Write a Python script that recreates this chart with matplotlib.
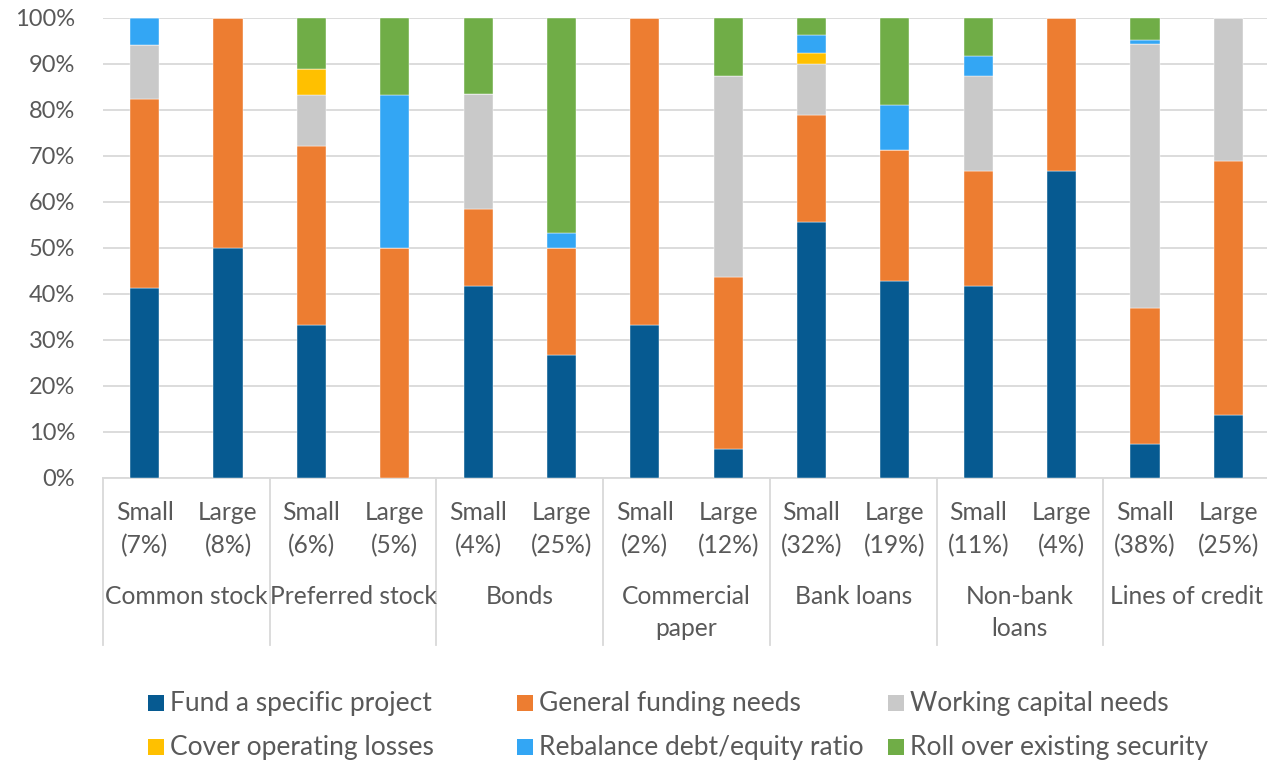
import matplotlib
matplotlib.use("Agg")
import matplotlib.pyplot as plt
import numpy as np
from matplotlib.patches import Rectangle

# ── data ───────────────────────────────────────────────────
groups = ["Common stock", "Preferred stock", "Bonds", "Commercial\npaper",
          "Bank loans", "Non-bank\nloans", "Lines of credit"]
sizes = ["Small\n(7%)", "Large\n(8%)", "Small\n(6%)", "Large\n(5%)",
         "Small\n(4%)", "Large\n(25%)", "Small\n(2%)", "Large\n(12%)",
         "Small\n(32%)", "Large\n(19%)", "Small\n(11%)", "Large\n(4%)",
         "Small\n(38%)", "Large\n(25%)"]

series = ["Fund a specific project", "General funding needs", "Working capital needs",
          "Cover operating losses", "Rebalance debt/equity ratio", "Roll over existing security"]
colors = ["#065A91", "#ED7D31", "#C9C9C9", "#FFC000", "#33A6F4", "#70AD47"]

fund_project = [41.2, 50.0, 33.3, 0.0, 41.7, 26.7, 33.3, 6.25, 55.6, 42.9, 41.7, 66.7, 7.4, 13.8]
general      = [41.2, 50.0, 38.9, 50.0, 16.7, 23.3, 66.7, 37.5, 23.3, 28.5, 25.0, 33.3, 29.6, 55.2]
working_cap  = [11.7, 0.0, 11.1, 0.0, 25.0, 0.0, 0.0, 43.75, 11.1, 0.0, 20.8, 0.0, 57.4, 31.0]
cover_losses = [0.0, 0.0, 5.6, 0.0, 0.0, 0.0, 0.0, 0.0, 2.5, 0.0, 0.0, 0.0, 0.0, 0.0]
rebalance    = [5.9, 0.0, 0.0, 33.3, 0.0, 3.3, 0.0, 0.0, 3.8, 9.6, 4.2, 0.0, 0.9, 0.0]
roll_over    = [0.0, 0.0, 11.1, 16.7, 16.6, 46.7, 0.0, 12.5, 3.7, 19.0, 8.3, 0.0, 4.7, 0.0]

values = [fund_project, general, working_cap, cover_losses, rebalance, roll_over]

# ── figure ─────────────────────────────────────────────────
plt.rcParams["font.family"] = ["Lato", "DejaVu Sans"]
TXT = "#595959"
GRID = "#D9D9D9"
FS = 17.7

W, H = 1267, 765
fig = plt.figure(figsize=(W / 100, H / 100), dpi=100)
ax = fig.add_axes([103 / W, (H - 478) / H, (1270 - 103) / W, 460 / H])

x = np.arange(len(sizes))
bottom = np.zeros(len(sizes))
for vals, col, name in zip(values, colors, series):
    vals = np.array(vals)
    ax.bar(x, vals, 0.35, bottom=bottom, color=col, label=name, zorder=3,
           edgecolor="white", linewidth=0.3)
    bottom += vals

ax.set_xlim(-0.5, len(sizes) - 0.5)
ax.set_ylim(0, 100)
ax.set_yticks(np.arange(0, 101, 10))
ax.set_yticklabels([f"{v}%" for v in range(0, 101, 10)], color=TXT, fontsize=17)
ax.tick_params(axis="y", length=0, pad=20)
ax.tick_params(axis="x", length=0, labelbottom=False)
ax.yaxis.grid(True, color=GRID, linewidth=1.3, zorder=0)
for s in ["top", "right", "left"]:
    ax.spines[s].set_visible(False)
ax.spines["bottom"].set_color(GRID)
ax.spines["bottom"].set_linewidth(1.3)

# two-level category axis
tr = ax.get_xaxis_transform()
for i, lab in enumerate(sizes):
    l1, l2 = lab.split("\n")
    ax.text(i, -0.074, l1, transform=tr, ha="center", va="center", fontsize=FS, color=TXT)
    ax.text(i, -0.146, l2, transform=tr, ha="center", va="center", fontsize=FS, color=TXT)
for g, lab in enumerate(groups):
    for k, line in enumerate(lab.split("\n")):
        ax.text(2 * g + 0.5, -0.257 - 0.07 * k, line, transform=tr, ha="center",
                va="center", fontsize=FS, color=TXT)
for b in range(len(groups) + 1):
    ax.plot([2 * b - 0.5] * 2, [0, -0.363], transform=tr, color=GRID,
            linewidth=1.3, clip_on=False)

# legend: fixed-width grid, 3 per row (like Excel)
col_x = [148, 517, 888]
row_y = [703, 747]
sq = 16
for i, (c, name) in enumerate(zip(colors, series)):
    px, py = col_x[i % 3], row_y[i // 3]
    fig.patches.append(Rectangle((px / W, (H - py - sq / 2) / H), sq / W, sq / H,
                                 transform=fig.transFigure, facecolor=c, edgecolor="none"))
    fig.text((px + sq + 6) / W, (H - py) / H, name, ha="left", va="center",
             fontsize=19, color=TXT)

fig.savefig("out.png", dpi=100)
